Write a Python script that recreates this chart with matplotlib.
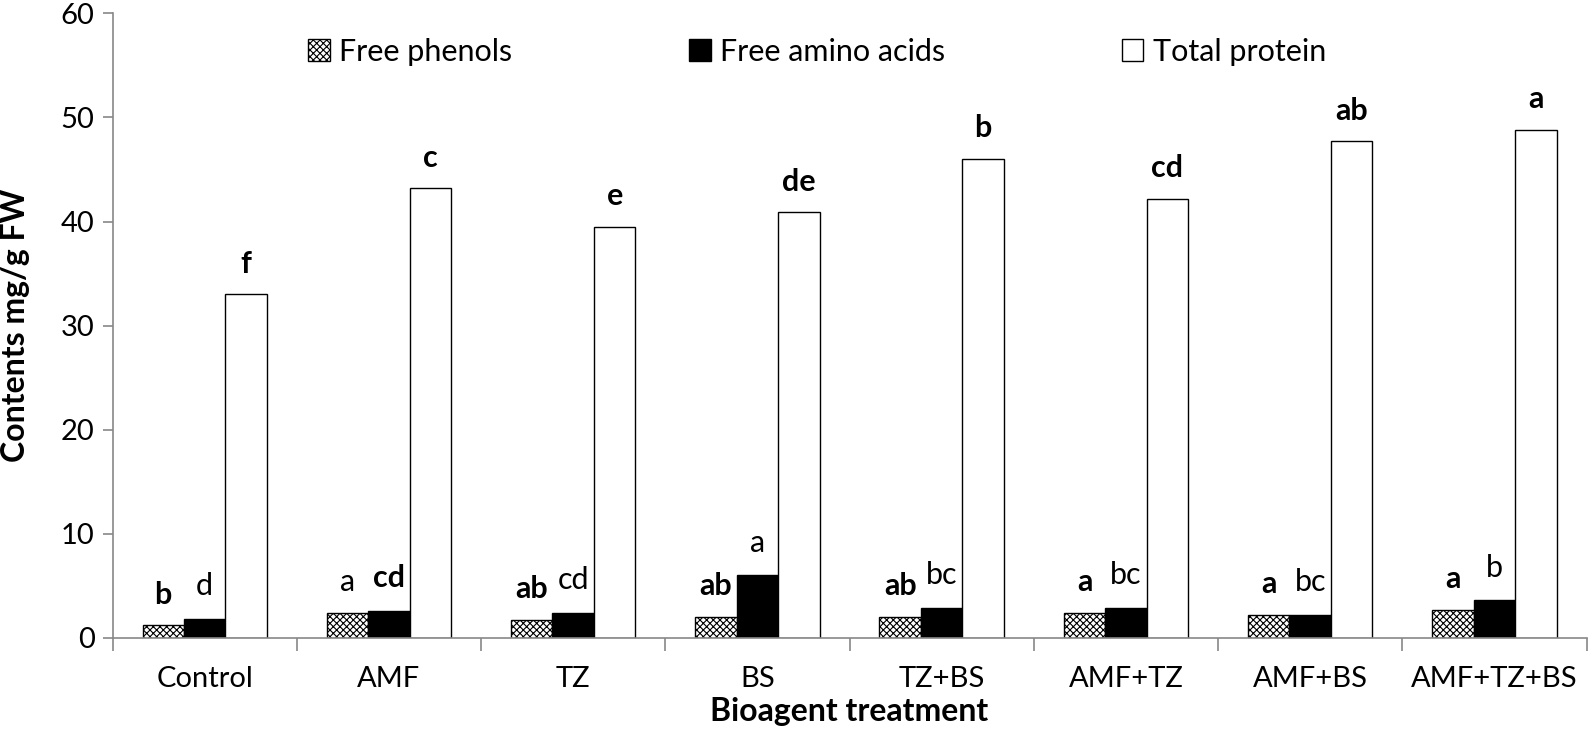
import matplotlib.pyplot as plt
import numpy as np

plt.rcParams['font.family'] = ['Lato', 'DejaVu Sans']
plt.rcParams['hatch.linewidth'] = 0.8

treatments = ['Control', 'AMF', 'TZ', 'BS', 'TZ+BS', 'AMF+TZ', 'AMF+BS', 'AMF+TZ+BS']
free_phenols = [1.2, 2.4, 1.7, 2.0, 2.0, 2.4, 2.2, 2.7]
free_amino = [1.8, 2.6, 2.4, 6.0, 2.9, 2.9, 2.2, 3.6]
total_protein = [33.0, 43.2, 39.5, 40.9, 46.0, 42.2, 47.7, 48.8]

phenol_letters = ['b', 'a', 'ab', 'ab', 'ab', 'a', 'a', 'a']
phenol_bold = [True, False, True, True, True, True, True, True]
amino_letters = ['d', 'cd', 'cd', 'a', 'bc', 'bc', 'bc', 'b']
amino_bold = [False, True, False, False, False, False, False, False]
protein_letters = ['f', 'c', 'e', 'de', 'b', 'cd', 'ab', 'a']

fig = plt.figure(figsize=(15.9, 7.32), dpi=100)
ax = fig.add_axes([0.0708, 0.1287, 0.927, 0.853])

x = np.arange(len(treatments))
w = 0.225
ax.bar(x - w, free_phenols, w, color='white', edgecolor='black', hatch='xxxxx',
       linewidth=1, label='Free phenols')
ax.bar(x, free_amino, w, color='black', edgecolor='black', linewidth=1,
       label='Free amino acids')
ax.bar(x + w, total_protein, w, color='white', edgecolor='black', linewidth=1,
       label='Total protein')

# significance letters
fs = 22
for i in range(len(x)):
    ax.text(x[i] - w, free_phenols[i] + 1.6, phenol_letters[i], ha='center', va='bottom',
            fontsize=fs, fontweight='bold' if phenol_bold[i] else 'normal')
    ax.text(x[i], free_amino[i] + 1.8, amino_letters[i], ha='center', va='bottom',
            fontsize=fs, fontweight='bold' if amino_bold[i] else 'normal')
    ax.text(x[i] + w, total_protein[i] + 1.6, protein_letters[i], ha='center', va='bottom',
            fontsize=fs, fontweight='bold')

ax.set_xlim(-0.5, len(treatments) - 0.5)
ax.set_ylim(0, 60)
ax.set_yticks(range(0, 61, 10))
ax.set_xticks(x)
ax.set_xticklabels(treatments, fontsize=21)
ax.set_xticks(np.arange(-0.5, len(treatments)), minor=True)
ax.tick_params(axis='x', which='major', length=0, pad=20)
ax.tick_params(axis='x', which='minor', length=9, color='#888888', width=1.2)
ax.tick_params(axis='y', labelsize=21, length=7, color='#888888', width=1.2, pad=6)

for s in ['top', 'right']:
    ax.spines[s].set_visible(False)
for s in ['left', 'bottom']:
    ax.spines[s].set_color('#888888')
    ax.spines[s].set_linewidth(1.2)

ax.set_ylabel('Contents mg/g FW', fontsize=23, fontweight='bold', labelpad=22)
ax.set_xlabel('Bioagent treatment', fontsize=23, fontweight='bold', labelpad=4)

ax.legend(loc='upper center', bbox_to_anchor=(0.478, 1.005), ncol=3, frameon=False,
          fontsize=22, handlelength=0.7, handleheight=0.7, handletextpad=0.3,
          columnspacing=5.8)

plt.savefig('out.png', dpi=100)
